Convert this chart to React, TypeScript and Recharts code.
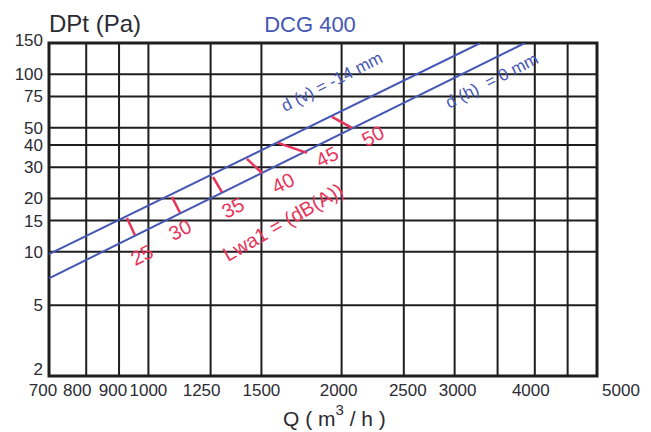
import React from 'react';
import { ComposedChart, Line, Scatter, XAxis, YAxis, CartesianGrid, ReferenceArea } from 'recharts';

// Axis ticks (log-log chart, Q in m3/h vs DPt in Pa)
const qTicks = [700, 800, 900, 1000, 1250, 1500, 2000, 2500, 3000, 3500, 4000, 4500, 5000];
const qTickLabels = ['700', '800', '900', '1000', '1250', '1500', '2000', '2500', '3000', '', '4000', '', '5000'];
const pTicks = [2, 5, 10, 15, 20, 30, 40, 50, 75, 100, 150];

// d(v) = -14 mm (upper) and d(h) = 0 mm (lower), read at the left and top borders
const dvQ = [700, 3290];
const dvP = [9.7, 150];
const dhQ = [700, 3860];
const dhP = [7.1, 150];

// Lwa1 markers: each goes from the upper line down to the lower line
const lwaLevels = ['25', '30', '35', '40', '45', '50'];
const lwaQTop = [926, 1088, 1261, 1424, 1592, 1932];
const lwaPTop = [15.5, 20.4, 26.4, 33.4, 41.1, 57.6];
const lwaQBot = [953, 1120, 1302, 1503, 1766, 2076];
const lwaPBot = [12.4, 16.6, 21.7, 27.8, 36.1, 49.9];
const lwaLabelQ = [977, 1120, 1354, 1621, 1898, 2238];
const lwaLabelP = [9.6, 13.3, 17.7, 24.4, 34.3, 45.0];

// text notes along the curves
const curveNotes = ['d (v) = -14 mm', 'd (h)  = 0 mm'];
const curveNoteQ = [1932, 3430];
const curveNoteP = [90.7, 91.9];
const unitNote = 'Lwa1 = (dB(A))';
const unitNoteQ = 1621;
const unitNoteP = 14.7;

const BLUE = '#4556b4';
const RED = '#e8345a';
const INK = '#2b2b33';
const FONT = '"Liberation Sans", Arial, sans-serif';

const dvData = dvQ.map((q, i) => ({ q, p: dvP[i] }));
const dhData = dhQ.map((q, i) => ({ q, p: dhP[i] }));
const markerData = lwaLevels.map((_, i) => [
  { q: lwaQTop[i], p: lwaPTop[i] },
  { q: lwaQBot[i], p: lwaPBot[i] },
]);
const levelLabelData = lwaLevels.map((text, i) => ({ q: lwaLabelQ[i], p: lwaLabelP[i], text }));
const curveNoteData = curveNotes.map((text, i) => ({ q: curveNoteQ[i], p: curveNoteP[i], text }));
const unitNoteData = [{ q: unitNoteQ, p: unitNoteP, text: unitNote }];

// the printed labels sit a little off their grid lines
const qLabelNudge: Record<number, number> = { 700: -6, 800: -9, 900: -6, 1250: -9, 2000: -3, 2500: 4, 3000: 3, 4000: -4, 5000: 24 };
const pLabelNudge: Record<number, number> = { 2: -7, 150: -3 };

function QTick(props: any) {
  const { x, y, payload } = props;
  const idx = qTicks.indexOf(payload.value);
  const label = idx >= 0 ? qTickLabels[idx] : '';
  if (!label) return null;
  return (
    <text x={x + (qLabelNudge[payload.value] || 0)} y={y} dy="0.71em" textAnchor="middle" fontSize={17} fontFamily={FONT} fill={INK}>
      {label}
    </text>
  );
}

function PTick(props: any) {
  const { x, y, payload } = props;
  return (
    <text x={x} y={y + (pLabelNudge[payload.value] || 0)} dy="0.35em" textAnchor="end" fontSize={17} fontFamily={FONT} fill={INK}>
      {payload.value}
    </text>
  );
}

function rotatedText(angle: number, size: number, color: string) {
  return (props: any) => {
    const { cx, cy, payload } = props;
    return (
      <text
        x={cx}
        y={cy}
        transform={`rotate(${angle} ${cx} ${cy})`}
        textAnchor="middle"
        dominantBaseline="central"
        fontSize={size}
        fontFamily={FONT}
        fill={color}
        style={{ whiteSpace: 'pre' }}
      >
        {payload.text}
      </text>
    );
  };
}

export default function App() {
  return (
    <div style={{ position: 'absolute', left: 0, top: 0, width: 651, height: 432, background: '#fff' }}>
      <ComposedChart width={651} height={432} margin={{ top: 43, right: 54, left: 0, bottom: 0 }}>
        <CartesianGrid stroke="#1e1e1e" strokeWidth={2} />
        <XAxis
          dataKey="q"
          type="number"
          scale="log"
          domain={[700, 5000]}
          ticks={qTicks}
          interval={0}
          allowDataOverflow
          tickLine={false}
          axisLine={false}
          tickMargin={2}
          height={56}
          tick={<QTick />}
        />
        <YAxis
          dataKey="p"
          type="number"
          scale="log"
          domain={[2, 150]}
          ticks={pTicks}
          interval={0}
          allowDataOverflow
          tickLine={false}
          axisLine={false}
          tickMargin={0}
          width={49}
          tick={<PTick />}
        />
        <ReferenceArea x1={700} x2={5000} y1={2} y2={150} fill="none" stroke="#1e1e1e" strokeWidth={3} />
        <Line data={dvData} dataKey="p" stroke={BLUE} strokeWidth={2} dot={false} activeDot={false} isAnimationActive={false} />
        <Line data={dhData} dataKey="p" stroke={BLUE} strokeWidth={2} dot={false} activeDot={false} isAnimationActive={false} />
        {markerData.map((seg, i) => (
          <Line
            key={lwaLevels[i]}
            data={seg}
            dataKey="p"
            stroke={RED}
            strokeWidth={2.5}
            dot={false}
            activeDot={false}
            isAnimationActive={false}
          />
        ))}
        <Scatter data={levelLabelData} dataKey="p" shape={rotatedText(-27, 20, RED)} isAnimationActive={false} />
        <Scatter data={unitNoteData} dataKey="p" shape={rotatedText(-30, 20, RED)} isAnimationActive={false} />
        <Scatter data={curveNoteData} dataKey="p" shape={rotatedText(-27, 17, BLUE)} isAnimationActive={false} />
      </ComposedChart>
      <svg width={651} height={432} style={{ position: 'absolute', left: 0, top: 0, pointerEvents: 'none' }}>
        <text x={49} y={32} fontSize={24} fontFamily={FONT} fill={INK}>DPt (Pa)</text>
        <text x={310} y={32} textAnchor="middle" fontSize={22} fontFamily={FONT} fill={BLUE}>DCG 400</text>
        <text x={283} y={426} fontSize={21} fontFamily={FONT} fill={INK}>
          Q ( m<tspan dy={-11} fontSize={15}>3</tspan><tspan dy={11}> / h )</tspan>
        </text>
      </svg>
    </div>
  );
}
